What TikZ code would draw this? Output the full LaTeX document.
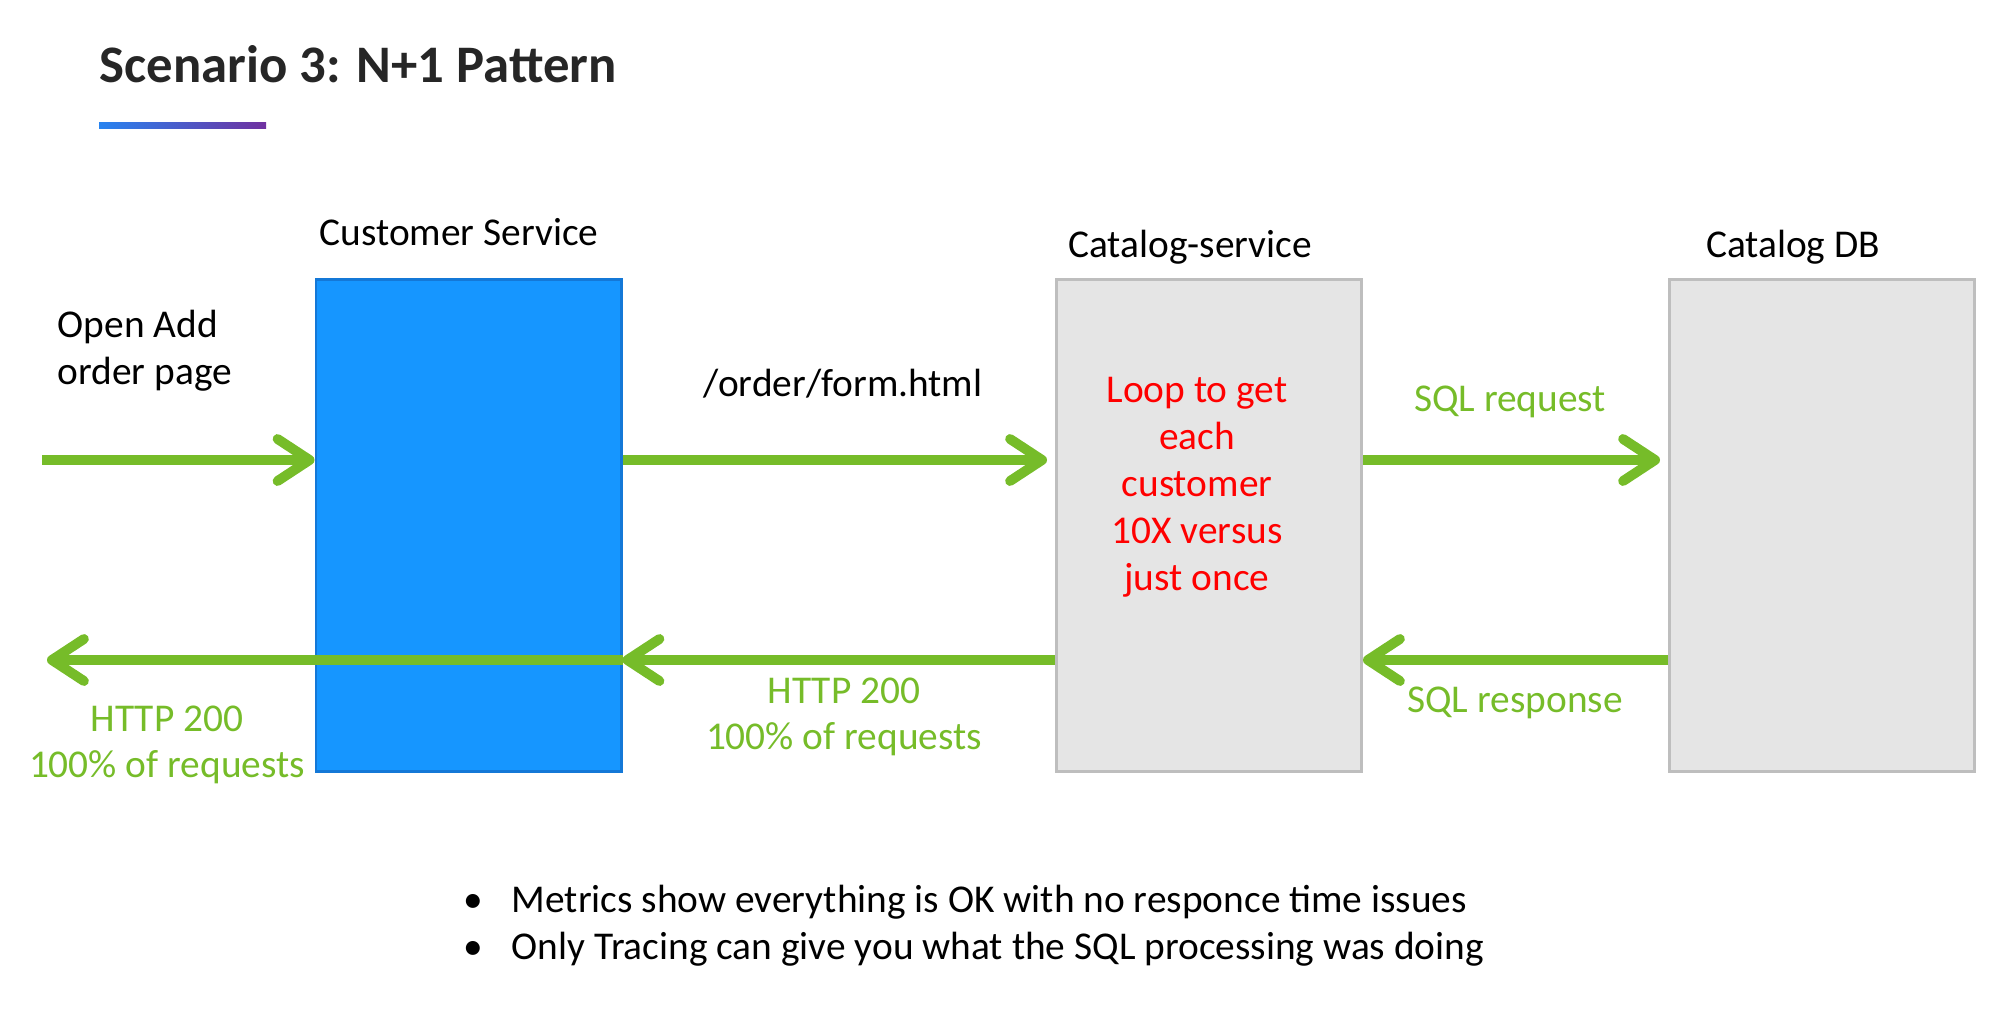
\documentclass[tikz,border=0pt]{standalone}
\usepackage{fontspec}
\setmainfont{Carlito}
\usetikzlibrary{arrows.meta}
\definecolor{flowgreen}{RGB}{118,188,41}
\definecolor{custblue}{RGB}{22,150,255}
\definecolor{custedge}{RGB}{20,120,215}
\definecolor{boxgray}{RGB}{229,229,229}
\definecolor{boxline}{RGB}{190,190,190}
\definecolor{barblue}{RGB}{40,132,240}
\definecolor{barpurple}{RGB}{112,48,160}
\definecolor{titlegray}{RGB}{38,38,38}

\begin{document}
\begin{tikzpicture}[x=0.01cm,y=-0.01cm,
        font=\fontsize{11.2}{13.3}\selectfont,
        svcbox/.style={minimum width=3.05cm, minimum height=4.91cm, inner sep=0pt},
        greybox/.style={svcbox, draw=boxline, fill=boxgray, line width=0.8pt},
        flow/.style={draw=flowgreen, line width=2.8pt, -{Straight Barb[length=3.2mm,width=4.2mm,round]}},
        greentext/.style={text=flowgreen, align=center}]
        \useasboundingbox (0,0) rectangle (1999,1018);

        % title and bar
        \node[anchor=west, inner sep=0pt, text=titlegray, font=\fontsize{15}{17}\selectfont\bfseries] (title) at (99,64) {Scenario 3: N+1 Pattern};
        \shade[left color=barblue, right color=barpurple] (99,122) rectangle (266,128);

        % the three boxes
        \node[svcbox, draw=custedge, fill=custblue, line width=0.8pt] (cust) at (468.5,525.5) {};
        \node[greybox] (cat) at (1209,525.5) {};
        \node[greybox] (db) at (1822,525.5) {};

        \node (custlbl) at (459,232) {Customer Service};
        \node (catlbl) at (1190,247) {Catalog-service};
        \node (dblbl) at (1793,247) {Catalog DB};

        % free ends
        \coordinate (in) at (42,460);
        \coordinate (out) at (47,660);

        % requests
        \draw[flow] (in) -- (cust.west |- in);
        \draw[flow] (cust.east |- in) -- ([xshift=-0.08cm]cat.west |- in);
        \draw[flow] (cat.east |- in) -- ([xshift=-0.08cm]db.west |- in);

        % responses
        \draw[flow] (db.west |- out) -- (cat.east |- out);
        \draw[flow] (cat.west |- out) -- (cust.east |- out);
        \draw[flow] (cust.east |- out) -- (out);

        \node[anchor=west, align=left, inner sep=0pt] (open) at (57,351) {Open Add\\order page};
        \node (form) at (843,384) {/order/form.html};
        \node[greentext] (sqlreq) at (1510,402) {SQL request};
        \node[greentext] (sqlresp) at (1515,703) {SQL response};
        \node[greentext] (http1) at (844,717) {HTTP 200\\100\% of requests};
        \node[greentext] (http2) at (167,745) {HTTP 200\\100\% of requests};
        \node[text=red, align=center, font=\fontsize{11.2}{13.4}\selectfont] (loop) at (1197,487) {Loop to get\\each\\customer\\10X versus\\just once};

        % notes
        \node[anchor=west, align=left, inner sep=0pt] (notes) at (463,926)
            {\makebox[0.48cm][l]{\textbullet}Metrics show everything is OK with no responce time issues\\
             \makebox[0.48cm][l]{\textbullet}Only Tracing can give you what the SQL processing was doing};
\end{tikzpicture}
\end{document}
